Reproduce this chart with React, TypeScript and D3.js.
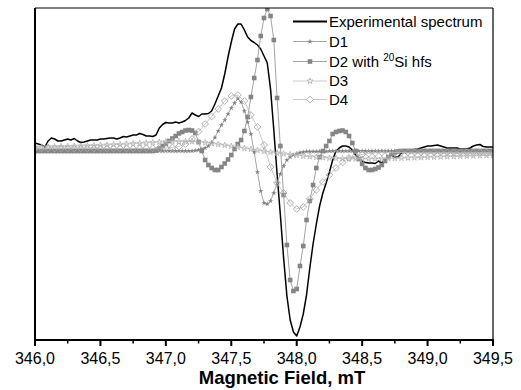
import React from 'react';
import * as d3 from 'd3';

// Field grid definitions (mT)
const fieldStart = 346.0;
const fineStep = 0.025;   // experimental, D1, D2
const coarseStep = 0.05;  // D3, D4

// Experimental spectrum (arbitrary units)
const expSpectrum = [
  7, 6, 5, 3, 9, 12, 11, 9, 9, 10,
  11, 10, 11.5, 9, 7.5, 8, 9, 10, 10, 10,
  11, 11, 11.5, 12, 12, 11, 12, 13.5, 13, 14,
  15, 15, 16.5, 15.5, 14, 14, 13.5, 15, 22, 25.5,
  27.5, 27, 27, 28, 27, 28, 29.5, 32, 37, 35,
  33.5, 36, 36, 36.5, 39, 46, 54, 62, 76, 93,
  108, 121, 126, 126, 120, 113, 109.5, 107.5, 105, 101,
  94, 87, 61, 20, -24, -65, -108, -146, -170, -182,
  -186, -177, -164, -145, -118, -94, -74, -56, -43, -33,
  -22, -10, -1, 2, 4, 4, 3, 0, -5, -8,
  -11, -12.5, -13, -13, -13.5, -11, -13, -10, -6, -5,
  -7, -7, -3, -1, 0, 0, 0.5, 1, 2, 3,
  4, 4, 4.5, 5, 4, 3, 2, 2, 2, 2,
  1, 1, 1, 2, 4, 5, 5.5, 3.5, 3, 3,
  3,
];

// D1
const d1Values = [
  -1, -1, -1, -1, -1, -1, -1, -1, -1, -1,
  -1, -1, -1, -1, -1, -1, -1, -1, -1, -1,
  -1, -1, -1, -1, -1, -1, -1, -1, -1, -1,
  -1, -1, -1, -1, -1, -1, -1, -1, -1, -1,
  -1, -1, -1, -1, -1, -1, -1, -1, -1, -0.5,
  0, 1, 2, 4, 7.5, 12.5, 19, 25, 30, 36,
  42, 47, 51.5, 48, 39, 28, 16, -2, -22, -41,
  -53, -54, -51, -43, -33, -24, -16, -10, -7, -5,
  -3.5, -2.5, -2, -1.5, -1.5, -1.5, -1.5, -1.5, -1.5, -1.5,
  -1, -1, -1, -1, -1, -1, -1, -1, -1, -1,
  -1, -1, -1, -1, -1, -1, -1, -1, -1, -1,
  -1, -1, -1, -1, -1, -1, -1, -1, -1, -1,
  -1, -1, -1, -1, -1, -1, -1, -1, -1, -1,
  -1, -1, -1, -1, -1, -1, -1, -1, -1, -1,
  -1,
];

// D2 with 20Si hfs
const d2Values = [
  -1, -1, -1, -1, -1, -1, -1, -1, -1, -1,
  -1, -1, -1, -1, -1, -1, -1, -1, -1, -1,
  -1, -1, -1, -1, -1, -1, -1, -1, -1, -1,
  -1, -1, -1, -1, -1, -1, -1, -0.5, 1.5, 4,
  6, 9, 11.5, 14, 16.5, 18, 19.5, 20, 19.5, 17,
  8, -1, -10, -15, -18, -20, -20, -17, -13.5, -9.5,
  -5, 1, 6, 10, 19, 33, 53, 72, 90, 114,
  132, 141, 134, 110, 52, 4, -45, -95, -130, -141,
  -139, -116, -96, -70, -51, -35, -18, -7, -1, 4,
  9, 16, 18, 19, 19.5, 18, 14, 7, -1, -9,
  -14, -18, -20, -20, -19, -17.5, -15, -11, -7, -4,
  -2.5, -1.5, -1, -1, -1, -1, -1, -1, -1, -1,
  -1, -1, -1, -1, -1, -1, -1, -1, -1, -1,
  -1, -1, -1, -1, -1, -1, -1, -1, -1, -1,
  -1,
];

// D3
const d3Values = [
  3, 3, 3.2, 3.3, 3.5, 3.6, 3.8, 4, 4.2, 4.4,
  4.7, 5, 5.3, 5.6, 5.9, 6.3, 6.7, 7.1, 7.5, 7.9,
  8.2, 8.5, 8.6, 8.6, 8.4, 8, 7.4, 6.6, 5.7, 4.8,
  3.8, 2.8, 1.8, 0.8, -0.2, -1.2, -2.2, -3, -3.8, -4.6,
  -5.3, -6, -6.6, -7.1, -7.6, -8, -8.3, -8.6, -8.8, -8.9,
  -9, -9, -8.9, -8.7, -8.5, -8.3, -8.1, -7.9, -7.7, -7.5,
  -7.3, -7.1, -6.9, -6.7, -6.5, -6.3, -6.1, -5.9, -5.7, -5.5,
  -5.3,
];

// D4
const d4Values = [
  1.5, 1.5, 1.5, 1.5, 1.5, 1.5, 1.5, 1.5, 1.5, 1.5,
  1.5, 1.5, 1.5, 1.5, 1.5, 1.5, 1.6, 1.7, 1.8, 2,
  2, 2.5, 3.5, 6, 11, 18.5, 26, 33.5, 41, 49,
  54, 55, 49, 35, 23, 5, -17, -33, -43, -53,
  -59, -57, -49, -40, -32, -25, -18, -12.5, -8, -6,
  -4.5, -3.5, -3, -2.5, -2.5, -2.5, -2.5, -2.5, -2.5, -2.5,
  -2.5, -2.5, -2.5, -2.5, -2.5, -2.5, -2.5, -2.5, -2.5, -2.5,
  -2.5,
];

const tickValues = [346.0, 346.5, 347.0, 347.5, 348.0, 348.5, 349.0, 349.5];
const tickLabels = ['346,0', '346,5', '347,0', '347,5', '348,0', '348,5', '349,0', '349,5'];
const minorTickValues = [346.25, 346.75, 347.25, 347.75, 348.25, 348.75, 349.25];

const xLabel = 'Magnetic Field, mT';

const FONT = "'Liberation Sans', Arial, Helvetica, sans-serif";

export default function App() {
  const left = 35, right = 493, top = 8, bottom = 340;
  const x = d3.scaleLinear().domain([346, 349.5]).range([left, right]);
  const y = d3.scaleLinear().domain([-190, 142]).range([bottom, top]);

  const fineField = expSpectrum.map((_, i) => fieldStart + i * fineStep);
  const coarseField = d3Values.map((_, i) => fieldStart + i * coarseStep);

  const mkLine = (fields: number[]) =>
    d3.line<number>().x((_, i) => x(fields[i])).y((d) => y(d));

  const fineLine = mkLine(fineField);
  const coarseLine = mkLine(coarseField);

  const starFilled = d3.symbol().type(d3.symbolStar).size(9)() as string;
  const starOpen = d3.symbol().type(d3.symbolStar).size(11)() as string;
  const diamond = 'M0,-3.4L3.4,0L0,3.4L-3.4,0Z';

  const legendX0 = 293, legendX1 = 327, legendTextX = 329;
  const legendRows = [21.5, 41.5, 61.5, 81, 99.5];

  return (
    <svg width={521} height={390} style={{ position: 'absolute', left: 0, top: 0, background: '#fff' }}
      fontFamily={FONT}>
      <defs>
        <clipPath id="plotClip">
          <rect x={left} y={top} width={right - left} height={bottom - top} />
        </clipPath>
      </defs>
      <rect x={0} y={0} width={521} height={390} fill="#fff" />

      <g clipPath="url(#plotClip)">
        {/* Experimental */}
        <path d={fineLine(expSpectrum) || ''} fill="none" stroke="#000" strokeWidth={1.5} strokeLinejoin="round" />

        {/* D1 */}
        <path d={fineLine(d1Values) || ''} fill="none" stroke="#9a9a9a" strokeWidth={0.9} />
        {d1Values.map((v, i) => (
          <path key={'d1' + i} d={starFilled} transform={`translate(${x(fineField[i])},${y(v)})`} fill="#7f7f7f" />
        ))}

        {/* D2 */}
        <path d={fineLine(d2Values) || ''} fill="none" stroke="#999" strokeWidth={0.9} />
        {d2Values.map((v, i) => (
          <rect key={'d2' + i} x={x(fineField[i]) - 2.3} y={y(v) - 2.3} width={4.6} height={4.6} fill="#858585" />
        ))}

        {/* D3 */}
        <path d={coarseLine(d3Values) || ''} fill="none" stroke="#bdbdbd" strokeWidth={0.8} />
        {d3Values.map((v, i) => (
          <path key={'d3' + i} d={starOpen} transform={`translate(${x(coarseField[i])},${y(v)})`} fill="none" stroke="#b0b0b0" strokeWidth={0.8} />
        ))}

        {/* D4 */}
        <path d={coarseLine(d4Values) || ''} fill="none" stroke="#bdbdbd" strokeWidth={0.8} />
        {d4Values.map((v, i) => (
          <path key={'d4' + i} d={diamond} transform={`translate(${x(coarseField[i])},${y(v)})`} fill="none" stroke="#a8a8a8" strokeWidth={0.9} />
        ))}
      </g>

      {/* Frame */}
      <line x1={left} x2={right} y1={top} y2={top} stroke="#000" strokeWidth={1.2} />
      <line x1={right} x2={right} y1={top} y2={bottom} stroke="#000" strokeWidth={1.2} />
      <line x1={left} x2={left} y1={top} y2={bottom + 1} stroke="#000" strokeWidth={2} />
      <line x1={left - 1} x2={right + 1} y1={bottom} y2={bottom} stroke="#000" strokeWidth={2} />

      {/* Ticks */}
      {tickValues.map((t, i) => (
        <g key={'t' + i}>
          <line x1={x(t)} x2={x(t)} y1={bottom} y2={bottom + 6} stroke="#000" strokeWidth={2} />
          <text x={x(t)} y={364} textAnchor="middle" fontSize={16} fill="#000">{tickLabels[i]}</text>
        </g>
      ))}
      {minorTickValues.map((t, i) => (
        <line key={'m' + i} x1={x(t)} x2={x(t)} y1={bottom} y2={bottom + 3.5} stroke="#000" strokeWidth={1.5} />
      ))}

      <text x={282} y={384} textAnchor="middle" fontSize={18.5} fontWeight="bold" fill="#000">{xLabel}</text>

      {/* Legend */}
      <g fontSize={15} fill="#000">
        <line x1={legendX0} x2={legendX1} y1={legendRows[0]} y2={legendRows[0]} stroke="#000" strokeWidth={2} />
        <text x={legendTextX} y={legendRows[0] + 5.3}>Experimental spectrum</text>

        <line x1={legendX0} x2={legendX1} y1={legendRows[1]} y2={legendRows[1]} stroke="#9a9a9a" strokeWidth={0.9} />
        <path d={starFilled} transform={`translate(${(legendX0 + legendX1) / 2},${legendRows[1]})`} fill="#7f7f7f" />
        <text x={legendTextX} y={legendRows[1] + 5.3}>D1</text>

        <line x1={legendX0} x2={legendX1} y1={legendRows[2]} y2={legendRows[2]} stroke="#999" strokeWidth={0.9} />
        <rect x={(legendX0 + legendX1) / 2 - 2.3} y={legendRows[2] - 2.3} width={4.6} height={4.6} fill="#858585" />
        <text x={legendTextX} y={legendRows[2] + 5.3}>
          D2 with <tspan fontSize={10} dy={-5.5}>20</tspan><tspan dy={5.5}>Si hfs</tspan>
        </text>

        <line x1={legendX0} x2={legendX1} y1={legendRows[3]} y2={legendRows[3]} stroke="#bdbdbd" strokeWidth={0.8} />
        <path d={starOpen} transform={`translate(${(legendX0 + legendX1) / 2},${legendRows[3]})`} fill="#fff" stroke="#b0b0b0" strokeWidth={0.8} />
        <text x={legendTextX} y={legendRows[3] + 5.3}>D3</text>

        <line x1={legendX0} x2={legendX1} y1={legendRows[4]} y2={legendRows[4]} stroke="#bdbdbd" strokeWidth={0.8} />
        <path d={diamond} transform={`translate(${(legendX0 + legendX1) / 2},${legendRows[4]})`} fill="#fff" stroke="#a8a8a8" strokeWidth={0.9} />
        <text x={legendTextX} y={legendRows[4] + 5.3}>D4</text>
      </g>
    </svg>
  );
}
